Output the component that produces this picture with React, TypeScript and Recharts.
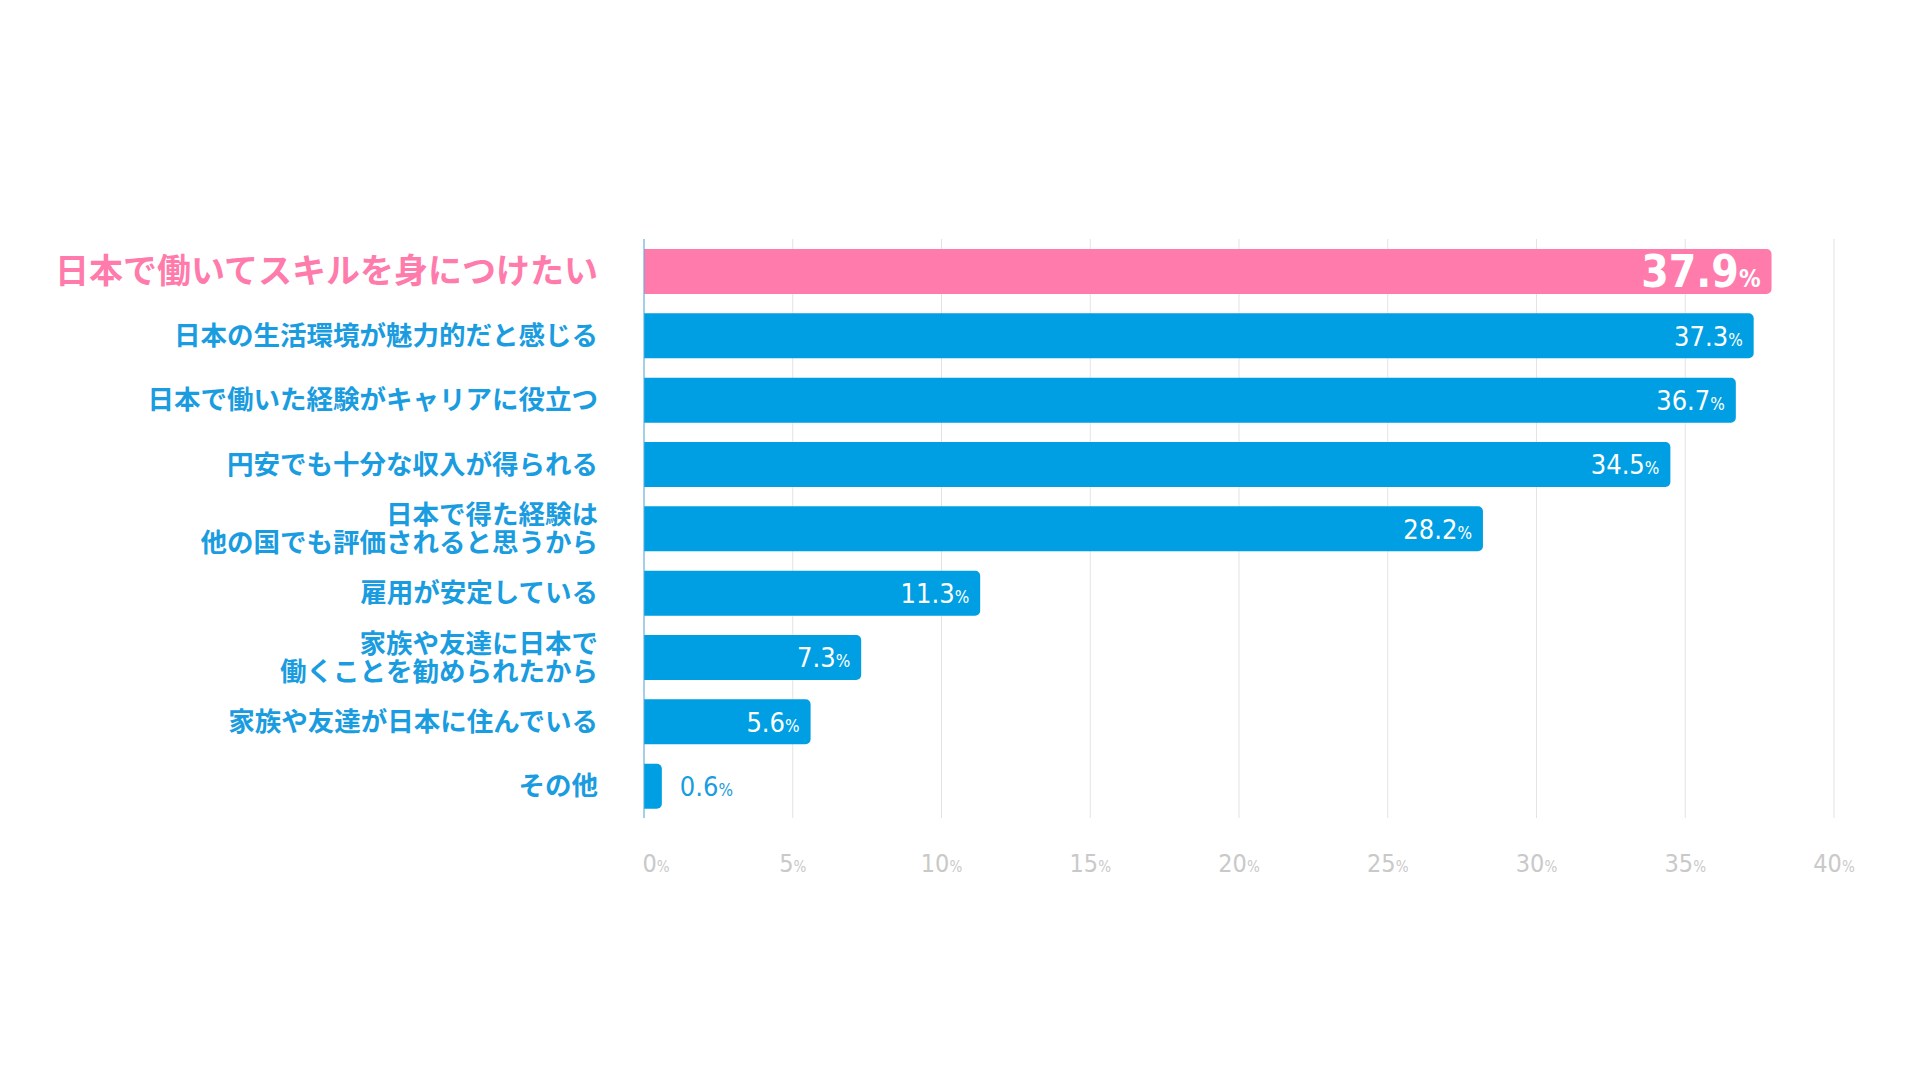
import { BarChart, Bar, XAxis, YAxis, CartesianGrid, Cell, LabelList } from "recharts";

const categories = [
  "日本で働いてスキルを身につけたい",
  "日本の生活環境が魅力的だと感じる",
  "日本で働いた経験がキャリアに役立つ",
  "円安でも十分な収入が得られる",
  "日本で得た経験は\n他の国でも評価されると思うから",
  "雇用が安定している",
  "家族や友達に日本で\n働くことを勧められたから",
  "家族や友達が日本に住んでいる",
  "その他",
];

const values = [37.9, 37.3, 36.7, 34.5, 28.2, 11.3, 7.3, 5.6, 0.6];

const xTicks = [0, 5, 10, 15, 20, 25, 30, 35, 40];

const PINK = "#ff7bac";
const BLUE = "#009fe3";
const TEXT_BLUE = "#1a9ce0";
const JP_FONT = "'Noto Sans CJK JP', 'Noto Sans', sans-serif";
const NUM_FONT = "'DejaVu Sans Condensed', 'Liberation Sans Narrow', Roboto, sans-serif";

const data = categories.map((name, i) => ({ name, value: values[i] }));

function CategoryTick(props: any) {
  const { x, y, payload, index } = props;
  const lines = String(payload.value).split("\n");
  const top = index === 0;
  const size = top ? 34 : 26.5;
  const lh = 28;
  const first = y - ((lines.length - 1) * lh) / 2;
  return (
    <text
      x={x}
      y={first}
      textAnchor="end"
      fill={top ? PINK : TEXT_BLUE}
      fontFamily={JP_FONT}
      fontSize={size}
      fontWeight={700}
    >
      {lines.map((l, i) => (
        <tspan key={i} x={x} y={first + i * lh} dy={size * 0.36}>
          {l}
        </tspan>
      ))}
    </text>
  );
}

function PercentTick(props: any) {
  const { x, y, payload, index } = props;
  return (
    <text
      x={x + (index === 0 ? 12 : 0)}
      y={y + 46}
      textAnchor="middle"
      fill="#c9c9c9"
      fontFamily={NUM_FONT}
    >
      <tspan fontSize={25}>{payload.value}</tspan>
      <tspan fontSize={15}>%</tspan>
    </text>
  );
}

function ValueLabel(props: any) {
  const { x, y, width, height, value, index } = props;
  const big = index === 0;
  const numSize = big ? 44 : 27;
  const pctSize = big ? 24 : 17;
  const inside = value >= 3;
  const cy = y + height / 2 + numSize * 0.36;
  return (
    <text
      x={inside ? x + width - 11 : x + width + 18}
      y={cy}
      textAnchor={inside ? "end" : "start"}
      fill={inside ? "#ffffff" : TEXT_BLUE}
      fontFamily={NUM_FONT}
      fontWeight={big ? 700 : 400}
    >
      <tspan fontSize={numSize}>{value}</tspan>
      <tspan fontSize={pctSize}>%</tspan>
    </text>
  );
}

export default function App() {
  return (
    <div style={{ position: "absolute", left: 0, top: 0, width: 1920, height: 1080, background: "#fff" }}>
      <BarChart
        width={1920}
        height={1080}
        data={data}
        layout="vertical"
        margin={{ top: 239, right: 86, bottom: 202, left: 0 }}
        barCategoryGap={0}
      >
        <CartesianGrid horizontal={false} stroke="#e3e3e3" />
        <XAxis
          type="number"
          domain={[0, 40]}
          ticks={xTicks}
          axisLine={false}
          tickLine={false}
          height={60}
          tick={<PercentTick />}
          interval={0}
        />
        <YAxis
          type="category"
          dataKey="name"
          width={644}
          axisLine={{ stroke: "#5aaede" }}
          tickLine={false}
          tickMargin={40}
          tick={<CategoryTick />}
          interval={0}
        />
        <Bar dataKey="value" barSize={45} radius={[0, 5, 5, 0]} isAnimationActive={false}>
          {data.map((d, i) => (
            <Cell key={d.name} fill={i === 0 ? PINK : BLUE} />
          ))}
          <LabelList dataKey="value" content={<ValueLabel />} />
        </Bar>
      </BarChart>
    </div>
  );
}
